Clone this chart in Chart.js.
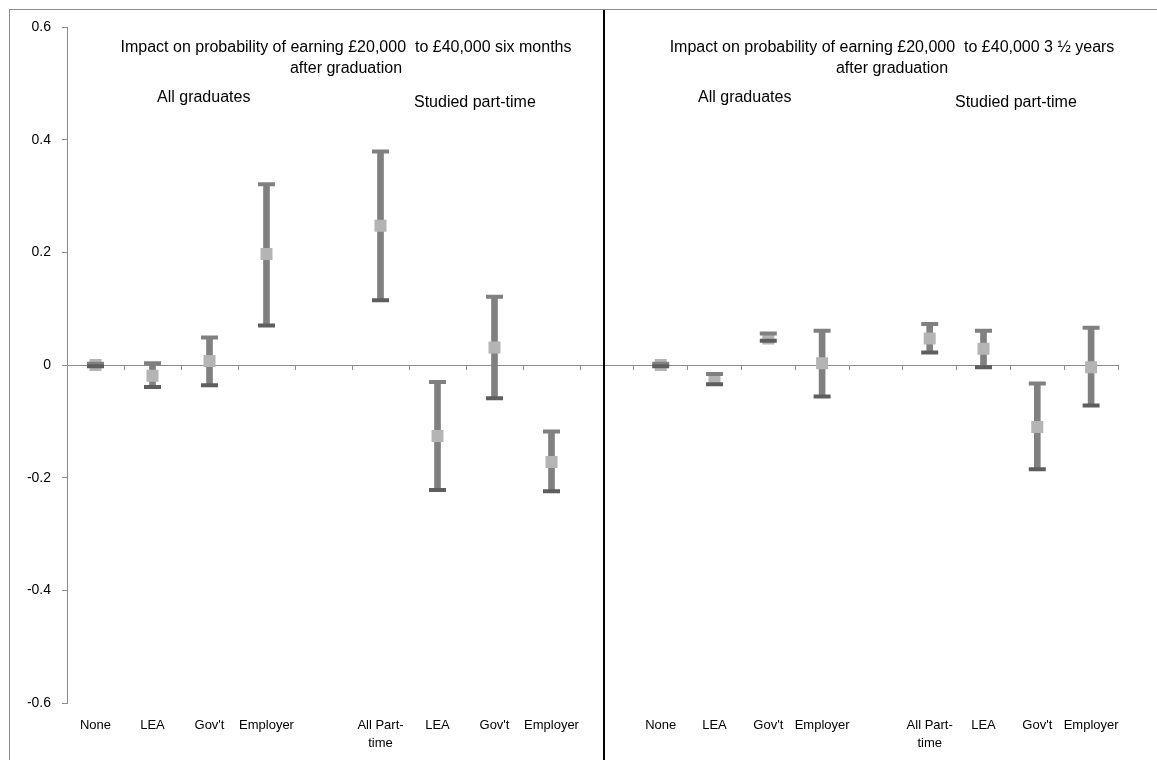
<!DOCTYPE html>
<html>
<head>
<meta charset="utf-8">
<script src="https://cdn.jsdelivr.net/npm/chart.js@4/dist/chart.umd.min.js"></script>
<style>
  body { margin: 0; background: #fff; }
  #wrap { position: relative; width: 1157px; height: 760px; overflow: hidden; font-family: "Liberation Sans", Arial, sans-serif; }
  #wrap canvas { position: absolute; left: 0; top: 0; }
  .frame { position: absolute; left: 9px; top: 9px; width: 1160px; height: 760px; border: 1px solid #8c8c8c; box-sizing: border-box; }
  .divider { position: absolute; left: 603px; top: 10px; width: 2px; height: 750px; background: #000; }
  .txt { position: absolute; font-size: 16px; color: #000; white-space: pre; line-height: 21px; }
  .ctr { transform: translateX(-50%); text-align: center; }
</style>
</head>
<body>
<div id="wrap">
  <div class="frame"></div>
  <canvas id="leftChart" width="1157" height="760"></canvas>
  <canvas id="rightChart" width="1157" height="760"></canvas>
  <div class="divider"></div>
  <div class="txt ctr" style="left:346px; top:36px;">Impact on probability of earning £20,000  to £40,000 six months
after graduation</div>
  <div class="txt" style="left:157px; top:86px;">All graduates</div>
  <div class="txt" style="left:414px; top:91px;">Studied part-time</div>
  <div class="txt ctr" style="left:892px; top:36px;">Impact on probability of earning £20,000  to £40,000 3 ½ years
after graduation</div>
  <div class="txt" style="left:698px; top:86px;">All graduates</div>
  <div class="txt" style="left:955px; top:91px;">Studied part-time</div>
</div>
<script>
// six months after graduation
const leftCategories = ["None", "LEA", "Gov't", "Employer", "", ["All Part-", "time"], "LEA", "Gov't", "Employer"];
const leftMean = [0, -0.019, 0.007, 0.197, null, 0.247, -0.126, 0.031, -0.172];
const leftLow = [-0.002, -0.039, -0.036, 0.070, null, 0.115, -0.222, -0.059, -0.224];
const leftHigh = [0.002, 0.003, 0.049, 0.321, null, 0.379, -0.030, 0.121, -0.118];

// 3 1/2 years after graduation
const rightCategories = ["", "None", "LEA", "Gov't", "Employer", "", ["All Part-", "time"], "LEA", "Gov't", "Employer"];
const rightMean = [null, 0, -0.025, 0.047, 0.003, null, 0.047, 0.029, -0.110, -0.004];
const rightLow = [null, -0.002, -0.034, 0.043, -0.056, null, 0.022, -0.004, -0.185, -0.072];
const rightHigh = [null, 0.002, -0.016, 0.056, 0.061, null, 0.073, 0.061, -0.033, 0.066];

const yMin = -0.6, yMax = 0.6, yStep = 0.2;

const BAR = "#808080", CAP_LOW = "#5e5e5e", MARK = "#b4b4b4", AXIS = "#8c8c8c";

function makeChart(id, labels, mean, low, high, pad, showY) {
  const ranges = low.map((l, i) => (l == null ? null : [l, high[i]]));
  const capStyle = (color, vals, ord) => ({
    type: "line",
    data: vals,
    showLine: false,
    pointStyle: "line",
    pointRadius: 8.5,
    pointBorderWidth: 4,
    borderColor: color,
    backgroundColor: color,
    order: ord,
  });
  return new Chart(document.getElementById(id), {
    type: "bar",
    data: {
      labels: labels,
      datasets: [
        { data: ranges, backgroundColor: BAR, barThickness: 6, order: 4 },
        {
          type: "line", data: mean, showLine: false, pointStyle: "rect",
          pointRadius: 8.5, pointBorderWidth: 0, backgroundColor: MARK, borderColor: MARK, order: 3,
        },
        capStyle(BAR, high, 2),
        capStyle(CAP_LOW, low, 1),
      ],
    },
    options: {
      responsive: false,
      animation: false,
      events: [],
      layout: { padding: pad },
      plugins: { legend: { display: false }, tooltip: { enabled: false } },
      scales: {
        x: {
          position: "bottom",
          grid: { display: false },
          border: { display: false },
          ticks: {
            autoSkip: false, maxRotation: 0, padding: 6,
            color: "#000", font: { family: "Liberation Sans", size: 13, lineHeight: 1.35 },
          },
          afterFit: (s) => { s.height = 57; },
        },
        x0: {
          type: "category",
          position: { y: 0 },
          offset: true,
          grid: { offset: true, drawOnChartArea: false, tickLength: 4, color: AXIS },
          border: { display: true, color: AXIS, width: 1 },
          ticks: { display: false },
        },
        y: {
          min: yMin, max: yMax,
          grid: { display: showY, drawOnChartArea: false, tickLength: 5, color: AXIS },
          border: { display: showY, color: AXIS },
          ticks: {
            stepSize: yStep, padding: 11,
            color: showY ? "#000" : "transparent",
            font: { family: "Liberation Sans", size: 14 },
            callback: (v) => String(+v.toFixed(1)),
          },
          afterFit: (s) => { s.width = 58; },
        },
      },
    },
  });
}

makeChart("leftChart", leftCategories, leftMean, leftLow, leftHigh,
  { left: 9, right: 577, top: 27, bottom: 0 }, true);
makeChart("rightChart", rightCategories, rightMean, rightLow, rightHigh,
  { left: 522, right: 39, top: 27, bottom: 0 }, false);
</script>
</body>
</html>
